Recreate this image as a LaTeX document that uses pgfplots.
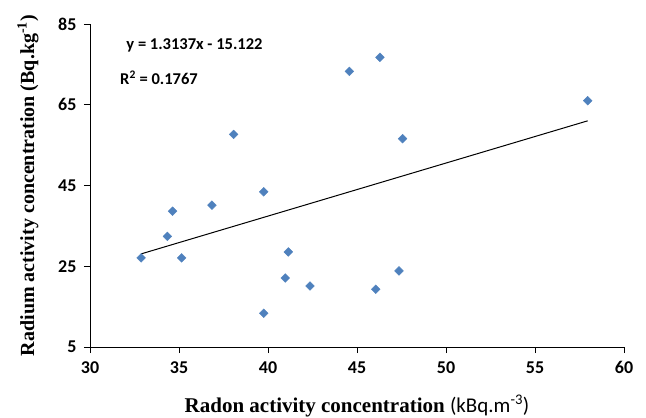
\documentclass[border=0pt]{standalone}
\usepackage{pgfplots}
\pgfplotsset{compat=1.18}
\usepackage{fontspec}
\setmainfont{Liberation Serif}
\newfontfamily\calib{Carlito}
\definecolor{mblue}{HTML}{4F81BD}
\begin{document}
\begin{tikzpicture}[x=1pt,y=1pt]
\useasboundingbox (-90,-71) rectangle (556,347);
\begin{axis}[
  at={(0,0)}, anchor=south west,
  scale only axis, width=534pt, height=323pt,
  xmin=30, xmax=60, ymin=5, ymax=85,
  xtick={30,35,...,60}, ytick={5,25,45,65,85},
  axis lines*=left,
  axis line style={black, line width=0.9pt},
  tick style={black, line width=0.9pt},
  tick align=outside,
  major tick length=6pt,
  tick label style={font=\calib\bfseries\fontsize{18}{20}\selectfont},
  /pgf/number format/assume math mode=true,
  xticklabel style={yshift=-5pt},
  yticklabel style={xshift=-4pt},
  xlabel={\bfseries\fontsize{21}{24}\selectfont Radon activity concentration {\calib\mdseries (kBq.m\textsuperscript{-3})}},
  ylabel={\bfseries\fontsize{20}{24}\selectfont Radium activity concentration (Bq.kg\textsuperscript{-1})},
  xlabel style={at={(rel axis cs:0.5,0)}, anchor=base, yshift=-65pt},
  ylabel style={at={(rel axis cs:-0.116,0.5)}, anchor=center},
  clip=false,
]
\addplot[only marks, mark=square*, mark size=3.1pt, mark options={draw=mblue, fill=mblue, rotate=45}] coordinates {
(32.87,27.07) (35.15,27.07) (34.35,32.4) (34.64,38.64) (36.85,40.13)
(38.07,57.65) (39.76,43.43) (39.76,13.36) (40.97,22.1) (41.14,28.55)
(42.36,20.1) (46.05,19.3) (47.36,23.85) (47.56,56.6) (57.96,66.0)
(44.57,73.27) (46.29,76.74)
};
\addplot[black, line width=1pt] coordinates {(32.87,28.06) (57.96,61.02)};
\node[anchor=west, font=\calib\bfseries\fontsize{16.5}{18}\selectfont] at (axis cs:31.85,79.8) {y = 1.3137x - 15.122};
\node[anchor=west, font=\calib\bfseries\fontsize{16.5}{18}\selectfont] at (axis cs:31.5,71.7) {R\textsuperscript{2} = 0.1767};
\end{axis}
\end{tikzpicture}
\end{document}
